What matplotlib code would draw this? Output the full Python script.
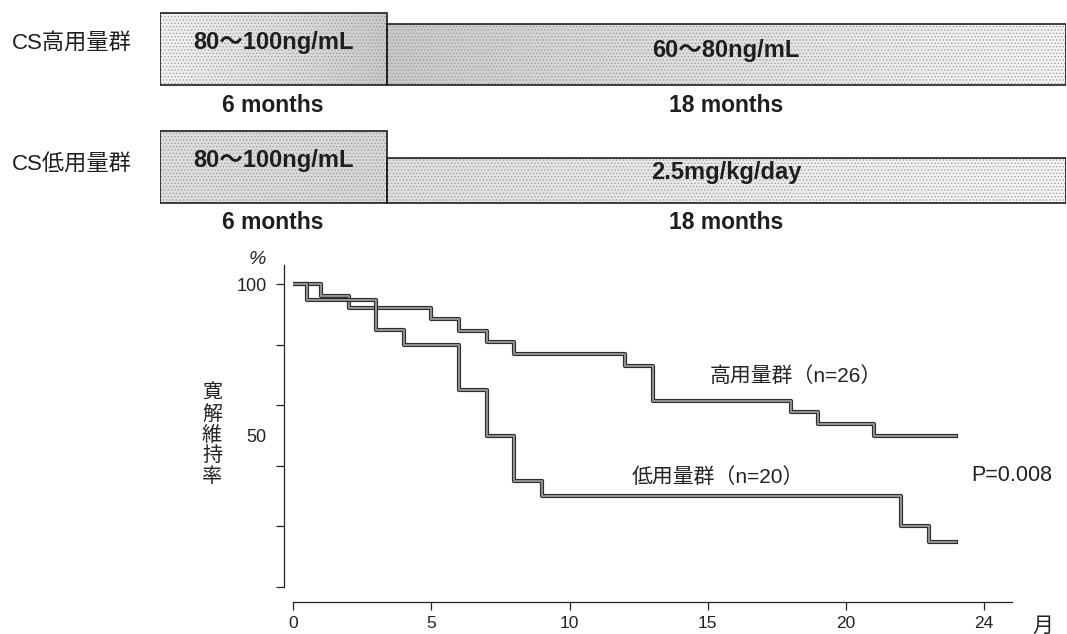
import matplotlib
matplotlib.use('Agg')
import matplotlib.pyplot as plt
import matplotlib.patheffects as pe
from matplotlib.patches import Rectangle
import numpy as np

plt.rcParams['font.family'] = ['Liberation Sans', 'Noto Sans CJK JP', 'DejaVu Sans']
plt.rcParams['hatch.linewidth'] = 0.5

# 寛解維持率（Kaplan-Meier）
high_t = [0, 1, 2, 5, 6, 7, 8, 12, 13, 18, 19, 21, 24]
high_s = [100, 96.2, 92.3, 88.5, 84.6, 80.8, 76.9, 73.1, 61.5, 57.7, 53.8, 50.0, 50.0]
low_t = [0, 0.5, 3, 4, 6, 7, 8, 9, 22, 23, 24]
low_s = [100, 95, 85, 80, 65, 50, 35, 30, 20, 15, 15]

x_ticks = [0, 5, 10, 15, 20, 25]
x_tick_labels = ['0', '5', '10', '15', '20', '24']
y_ticks = [0, 20, 40, 60, 80, 100]

# 投与スケジュール
groups = ['CS高用量群', 'CS低用量群']
phase_months = [6, 18]
phase_labels = ['6 months', '18 months']
phase_text = [['80～100ng/mL', '60～80ng/mL'], ['80～100ng/mL', '2.5mg/kg/day']]

W, H = 1067, 634
fig = plt.figure(figsize=(W / 100, H / 100), dpi=100)


def fx(px):
    return px / W


def fy(py):
    return 1 - py / H


# ---- 上段: 投与量の帯 ----
axt = fig.add_axes([fx(160), fy(232), 906 / W, 232 / H])
axt.set_xlim(0, sum(phase_months))
axt.set_ylim(232, 0)
axt.axis('off')

box_top = [[13, 24], [131, 158]]
box_bot = [85, 203]
text_y = [[42, 50], [160, 173]]
shade = [[(0.12, 0.32), (0.32, 0.10)], [(0.22, 0.26), (0.22, 0.10)]]
label_y = [105, 223]

for r in range(len(groups)):
    x0 = 0
    for p in range(len(phase_months)):
        x1 = x0 + phase_months[p]
        top, bot = box_top[r][p], box_bot[r]
        rect = Rectangle((x0, top), phase_months[p], bot - top, facecolor='none',
                         edgecolor='none')
        axt.add_patch(rect)
        a, b = shade[r][p]
        im = axt.imshow(np.linspace(a, b, 200).reshape(1, -1), extent=(x0, x1, bot, top),
                        cmap='Greys', vmin=0, vmax=1, aspect='auto', interpolation='bilinear')
        im.set_clip_path(rect)
        axt.add_patch(Rectangle((x0, top), phase_months[p], bot - top, fill=False,
                                hatch='.....', edgecolor='#9a9a9a', lw=0))
        axt.add_patch(Rectangle((x0, top), phase_months[p], bot - top, fill=False,
                                edgecolor='#1e1e1e', lw=1.2))
        axt.text((x0 + x1) / 2, text_y[r][p], phase_text[r][p], ha='center', va='center',
                 fontsize=17, fontweight='bold', color='#1e1e1e')
        axt.text((x0 + x1) / 2, label_y[r], phase_labels[p], ha='center', va='center',
                 fontsize=16.5, fontweight='bold', color='#1e1e1e')
        x0 = x1
    fig.text(fx(12), fy([43, 165][r]), groups[r], ha='left', va='center',
             fontsize=16, color='#1e1e1e')

# ---- 下段: 寛解維持率 ----
ax = fig.add_axes([fx(293.3), fy(587), (1011.7 - 293.3) / W, (587 - 265) / H])
for t, s in [(high_t, high_s), (low_t, low_s)]:
    ax.step(t, s, where='post', color='#8f8f8f', lw=1.5,
            path_effects=[pe.Stroke(linewidth=3.0, foreground='#2a2a2a'), pe.Normal()])

ax.set_xlim(0, 26)
ax.set_ylim(0, 106.4)
for sp in ['top', 'right']:
    ax.spines[sp].set_visible(False)
for sp in ['left', 'bottom']:
    ax.spines[sp].set_linewidth(0.9)
    ax.spines[sp].set_color('#222222')
ax.spines['left'].set_position(('outward', 6.5))
ax.spines['bottom'].set_position(('outward', 11))

ax.set_xticks(x_ticks)
ax.set_xticklabels(x_tick_labels)
ax.set_yticks(y_ticks)
ax.set_yticklabels(['' for v in y_ticks[:-1]] + ['100'])
ax.set_yticks([50], minor=True)
ax.set_yticklabels(['50'], minor=True)
ax.tick_params(axis='both', which='major', length=5.5, width=0.9, color='#222222',
               labelsize=13, labelcolor='#222222', pad=7)
ax.tick_params(axis='x', which='major', labelsize=12.5, pad=4.5)
ax.tick_params(axis='y', which='minor', length=0, labelsize=13, labelcolor='#222222',
               pad=12.5)

ax.text(15.08, 69.8, '高用量群（n=26）', ha='left', va='center', fontsize=15, color='#222222')
ax.text(12.25, 36.4, '低用量群（n=20）', ha='left', va='center', fontsize=15, color='#222222')
ax.text(24.55, 37.0, 'P=0.008', ha='left', va='center', fontsize=15.5, color='#222222',
        clip_on=False)

fig.text(fx(257), fy(259), '%', ha='center', va='center', fontsize=14, style='italic',
         color='#222222')
fig.text(fx(212), fy(435), '寛\n解\n維\n持\n率', ha='center', va='center', fontsize=14.5,
         linespacing=1.12, color='#222222')
fig.text(fx(1043), fy(626), '月', ha='center', va='center', fontsize=15, color='#222222')

fig.savefig('out.png', dpi=100)
